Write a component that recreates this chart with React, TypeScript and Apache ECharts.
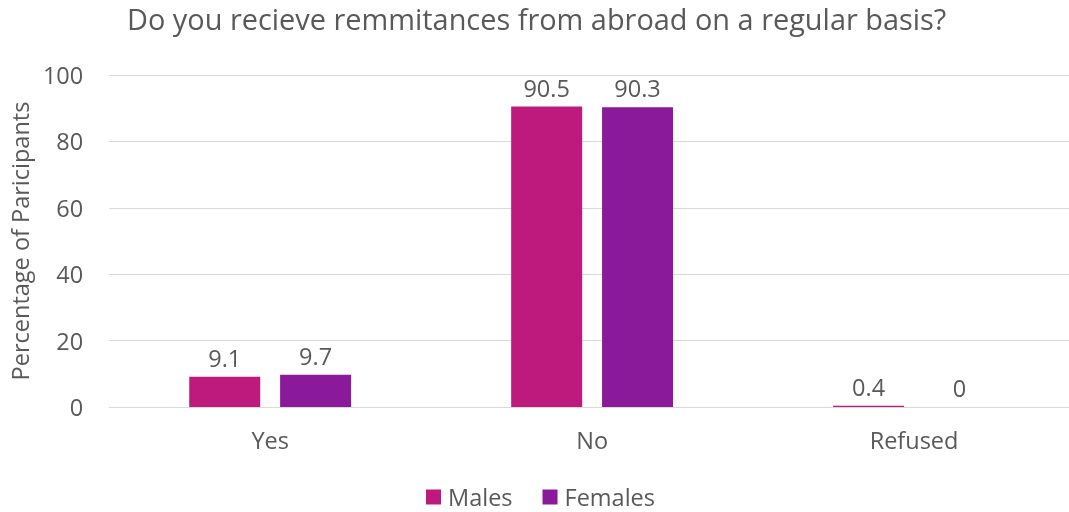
import React, { useEffect, useRef } from "react";
import * as echarts from "echarts";

const categories = ["Yes", "No", "Refused"];
const males = [9.1, 90.5, 0.4];
const females = [9.7, 90.3, 0];
const seriesNames = ["Males", "Females"];
const yTicks = { min: 0, max: 100, interval: 20 };

const FONT = "'Open Sans', 'Noto Sans', sans-serif";
const TEXT = "#595959";
const FS = 23.5;

export default function App() {
  const ref = useRef<HTMLDivElement>(null);
  useEffect(() => {
    const chart = echarts.init(ref.current!, null, { renderer: "svg" });
    const label = {
      show: true,
      position: "top" as const,
      distance: 7,
      color: TEXT,
      fontSize: FS,
      fontFamily: FONT,
    };
    chart.setOption({
      animation: false,
      textStyle: { fontFamily: FONT },
      title: {
        text: "Do you recieve remmitances from abroad on a regular basis?",
        left: 127,
        top: 4,
        padding: 0,
        textStyle: { color: TEXT, fontSize: 28.9, fontWeight: "normal", fontFamily: FONT },
      },
      grid: { left: 109, width: 966, top: 75, bottom: 105, containLabel: false },
      legend: {
        top: 485,
        left: 426,
        padding: 0,
        itemWidth: 15,
        itemHeight: 15,
        itemGap: 30,
        icon: "rect",
        textStyle: {
          color: TEXT,
          fontSize: FS,
          lineHeight: 22,
          fontFamily: FONT,
          padding: [0, 0, 0, 2],
        },
        data: seriesNames,
      },
      xAxis: {
        type: "category",
        data: categories,
        axisLine: { lineStyle: { color: "#d9d9d9", width: 1 } },
        axisTick: { show: false },
        axisLabel: { color: TEXT, fontSize: FS, fontFamily: FONT, margin: 21 },
      },
      yAxis: {
        type: "value",
        min: yTicks.min,
        max: yTicks.max,
        interval: yTicks.interval,
        name: "Percentage of Paricipants",
        nameLocation: "middle",
        nameGap: 77,
        nameTextStyle: { color: TEXT, fontSize: 23.5, fontFamily: FONT },
        axisLabel: { color: TEXT, fontSize: FS, fontFamily: FONT, margin: 26 },
        splitLine: { lineStyle: { color: "#d9d9d9", width: 1 } },
        axisLine: { show: false },
        axisTick: { show: false },
      },
      series: [
        {
          name: seriesNames[0],
          type: "bar",
          data: males,
          barWidth: 71,
          barGap: "28%",
          itemStyle: { color: "#BE1A7E" },
          label,
        },
        {
          name: seriesNames[1],
          type: "bar",
          data: females,
          barWidth: 71,
          itemStyle: { color: "#8B1A9A" },
          label,
        },
      ],
    });
    return () => chart.dispose();
  }, []);
  return (
    <div
      ref={ref}
      style={{ position: "fixed", left: 0, top: 0, width: 1080, height: 512 }}
    />
  );
}
